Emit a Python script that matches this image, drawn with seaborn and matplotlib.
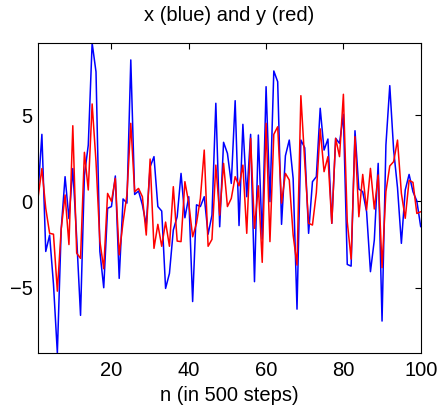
import matplotlib
matplotlib.use("Agg")
import matplotlib.pyplot as plt
import seaborn as sns
import pandas as pd

# values
n = list(range(1, 101))
x_vals = [0.5, 3.88, -2.9, -1.95, -4.8, -8.78, -1.6, 1.43, -1.0, 1.9,
          -2.1, -6.6, 1.5, 3.26, 9.17, 7.5, -2.9, -5.0, -0.4, -0.3,
          1.47, -4.46, 0.14, -0.1, 8.19, 0.4, 0.6, -0.2, -1.37, 2.0,
          2.59, -0.3, -0.56, -5.04, -4.17, -1.66, -0.89, 1.62, -0.95, 0.27,
          -5.8, -0.2, -0.3, 0.27, -1.9, -0.8, 5.68, -1.47, 3.42, 2.78,
          1.04, 5.83, -1.4, 4.46, 0.27, 3.88, -4.65, 3.84, -2.18, 6.64,
          -0.02, 7.55, 6.93, -1.33, 2.64, 3.55, 1.33, -6.24, 3.55, 3.1,
          -1.85, 1.14, 1.43, 5.39, 2.97, 3.61, -1.27, 3.65, 3.36, 5.04,
          -3.65, -3.75, 4.09, 0.71, 0.56, -0.6, -4.07, -2.24, 2.2, -6.93,
          3.26, 6.7, 2.97, 0.79, -2.43, 0.66, 1.56, 0.56, 0.02, -1.47]
y_vals = [0.2, 1.9, -0.4, -1.85, -1.9, -5.2, -1.6, 0.37, -2.5, 4.38,
          -3.0, -3.3, 2.84, 0.66, 5.64, 2.3, -2.3, -3.9, 0.46, 0.0,
          1.33, -3.1, -1.2, 0.37, 4.52, 0.56, 0.75, 0.27, -1.95, 2.45,
          -2.72, -1.33, -2.6, -1.2, -2.6, 0.85, -2.3, -2.33, 1.14, -0.1,
          -2.05, -1.27, 0.17, 2.97, -2.6, -2.2, 2.1, -0.8, 2.2, -0.3,
          0.17, 1.43, 0.9, 2.1, -1.85, 3.65, -1.56, 0.9, -3.53, 4.52,
          -2.33, 3.88, 4.32, -0.1, 1.62, 1.24, -1.95, -3.69, 6.12, 2.3,
          -1.27, -1.37, 0.5, 4.2, 1.72, 2.59, -1.27, 3.65, 2.59, 6.2,
          -1.18, -3.34, 3.75, -0.89, 1.56, -0.5, 1.91, -0.44, 1.53, -3.84,
          0.56, 2.05, 2.3, 3.55, 0.46, -0.98, 1.22, 1.1, -0.7, -0.6]

df = pd.DataFrame({"n": n, "x": x_vals, "y": y_vals})

sns.set_style("white")
plt.rcParams['font.family'] = ['Liberation Sans', 'DejaVu Sans']
plt.rcParams['text.color'] = 'black'
plt.rcParams['axes.labelcolor'] = 'black'

fig = plt.figure(figsize=(4.38, 4.08), dpi=100)
ax = fig.add_axes([0.0868, 0.1348, 0.8737, 0.7598])

sns.lineplot(data=df, x="n", y="x", color=(0, 0, 1), lw=1.1, ax=ax)
sns.lineplot(data=df, x="n", y="y", color=(1, 0, 0), lw=1.1, ax=ax)

ax.set_xlim(1, 100)
ax.set_ylim(min(x_vals + y_vals), max(x_vals + y_vals))
ax.set_xticks([20, 40, 60, 80, 100])
ax.set_yticks([-5, 0, 5])
ax.tick_params(direction='in', length=4, width=0.8, top=True, right=True,
               labelsize=14.5, colors='black')
ax.tick_params(axis='x', pad=6)
ax.tick_params(axis='y', pad=4)
for s in ax.spines.values():
    s.set_color('black')
    s.set_linewidth(0.8)

ax.set_title('x (blue) and y (red)', fontsize=14.5, pad=16, color='black')
ax.set_xlabel('n (in 500 steps)', fontsize=14.5, labelpad=4)
ax.set_ylabel('')

fig.savefig('out.png', dpi=100)
